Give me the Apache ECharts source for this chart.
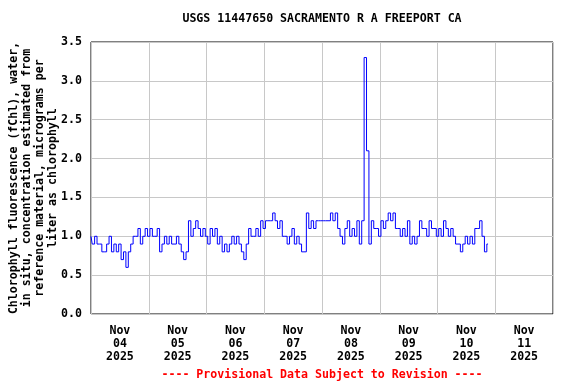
<!DOCTYPE html>
<html>
<head>
<meta charset="utf-8">
<script src="https://cdn.jsdelivr.net/npm/echarts@6/dist/echarts.min.js"></script>
<style>html,body{margin:0;padding:0;background:#fff}#c{width:576px;height:384px}</style>
</head>
<body>
<div id="c"></div>
<script>
// Hourly readings starting Nov 04 2025 00:00 (hours since start)
var startHour = 0;
var stepHours = 1;
var chlValues = [
  1.0,0.9,1.0,0.9,0.9,0.8,0.8,0.9,1.0,0.8,0.9,0.8,0.9,0.7,0.8,0.6,0.8,0.9,1.0,1.0,1.1,0.9,1.0,1.1,
  1.0,1.1,1.0,1.0,1.1,0.8,0.9,1.0,0.9,1.0,0.9,0.9,1.0,0.9,0.8,0.7,0.8,1.2,1.0,1.1,1.2,1.1,1.0,1.1,
  1.0,0.9,1.1,1.0,1.1,0.9,1.0,0.8,0.9,0.8,0.9,1.0,0.9,1.0,0.9,0.8,0.7,0.9,1.1,1.0,1.0,1.1,1.0,1.2,
  1.1,1.2,1.2,1.2,1.3,1.2,1.1,1.2,1.0,1.0,0.9,1.0,1.1,0.9,1.0,0.9,0.8,0.8,1.3,1.1,1.2,1.1,1.2,1.2,
  1.2,1.2,1.2,1.2,1.3,1.2,1.3,1.1,1.0,0.9,1.1,1.2,1.0,1.1,1.0,1.2,0.9,1.2,3.3,2.1,0.9,1.2,1.1,1.1,
  1.0,1.2,1.1,1.2,1.3,1.2,1.3,1.1,1.1,1.0,1.1,1.0,1.2,0.9,1.0,0.9,1.0,1.2,1.1,1.1,1.0,1.2,1.1,1.1,
  1.0,1.1,1.0,1.2,1.1,1.0,1.1,1.0,0.9,0.9,0.8,0.9,1.0,0.9,1.0,0.9,1.1,1.1,1.2,1.0,0.8,0.9
];
var dayLabels = ["Nov\n04\n2025","Nov\n05\n2025","Nov\n06\n2025","Nov\n07\n2025","Nov\n08\n2025","Nov\n09\n2025","Nov\n10\n2025","Nov\n11\n2025"];
var yTicks = [0,0.5,1.0,1.5,2.0,2.5,3.0,3.5];
var titleText = "USGS 11447650 SACRAMENTO R A FREEPORT CA";
var yName = "Chlorophyll fluorescence (fChl), water,\nin situ, concentration estimated from\nreference material, micrograms per\nliter as chlorophyll";
var footerText = "---- Provisional Data Subject to Revision ----";

var FONT = "'DejaVu Sans Mono', monospace";
var FS = 11.6;
var chart = echarts.init(document.getElementById('c'), null, {renderer:'canvas'});
var seriesData = chlValues.map(function(v,i){ return [startHour + i*stepHours, v]; });
chart.setOption({
  animation:false,
  backgroundColor:'#fff',
  grid:{left:91, right:23, top:42, bottom:70, show:true, borderColor:'#000', borderWidth:1, backgroundColor:'transparent',
        containLabel:false, outerBoundsMode:'none'},
  graphic:[
    {type:'text', x:322, y:19, style:{text:titleText, align:'center', verticalAlign:'middle', font:'bold '+FS+'px '+FONT, fill:'#000'}},
    {type:'text', x:322, y:375, style:{text:footerText, align:'center', verticalAlign:'middle', font:'bold '+FS+'px '+FONT, fill:'#ff0000'}},
    {type:'text', x:33, y:178, rotation:Math.PI/2, style:{text:yName, align:'center', verticalAlign:'middle', lineHeight:13,
      font:'bold '+FS+'px '+FONT, fill:'#000'}}
  ],
  xAxis:[
    {type:'value', min:0, max:dayLabels.length*24, interval:24, axisLabel:{show:false}, axisTick:{show:false}, axisLine:{show:false},
     splitLine:{show:true, lineStyle:{color:'#c8c8c8', width:1}}},
    {type:'category', data:dayLabels, position:'bottom', boundaryGap:true, axisTick:{show:false}, axisLine:{show:false}, splitLine:{show:false},
     axisLabel:{interval:0, margin:10, fontFamily:FONT, fontWeight:'bold', fontSize:FS, lineHeight:13, color:'#000'}}
  ],
  yAxis:{type:'value', min:yTicks[0], max:yTicks[yTicks.length-1], interval:0.5,
    axisLine:{show:false}, axisTick:{show:false},
    splitLine:{show:true, lineStyle:{color:'#c8c8c8', width:1}},
    axisLabel:{margin:9, fontFamily:FONT, fontWeight:'bold', fontSize:FS, color:'#000', formatter:function(v){return v.toFixed(1);}}
  },
  series:[{type:'line', xAxisIndex:0, data:seriesData, showSymbol:false, symbol:'none', step:'middle',
    lineStyle:{color:'#0000ff', width:1}, itemStyle:{color:'#0000ff'}}]
});
</script>
</body>
</html>
